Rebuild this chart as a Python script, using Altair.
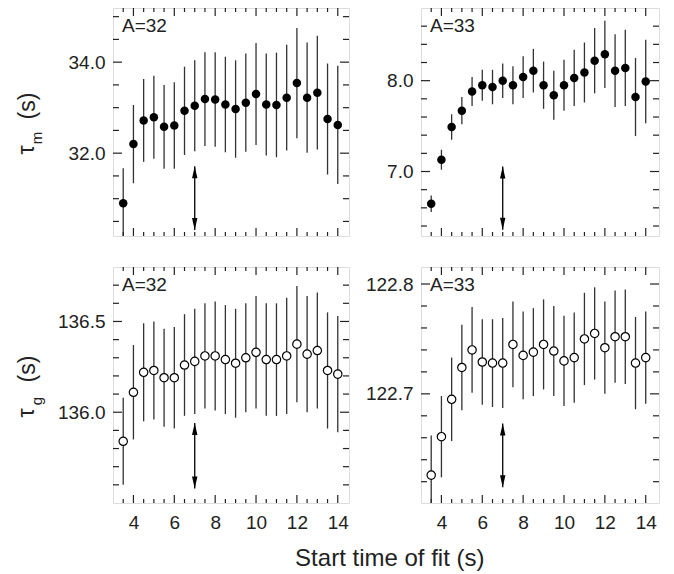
import altair as alt
import pandas as pd

FONT = "Liberation Sans"
INK = "#222222"

# ---------------- data ----------------
x_start = [3.5, 4.0, 4.5, 5.0, 5.5, 6.0, 6.5, 7.0, 7.5, 8.0, 8.5,
           9.0, 9.5, 10.0, 10.5, 11.0, 11.5, 12.0, 12.5, 13.0, 13.5, 14.0]

tau_m_32 = [30.90, 32.20, 32.72, 32.79, 32.58, 32.61, 32.93, 33.04, 33.19, 33.18, 33.07,
            32.97, 33.11, 33.30, 33.07, 33.06, 33.22, 33.54, 33.22, 33.33, 32.75, 32.62]
tau_m_32_err = [0.77, 0.86, 0.91, 0.91, 0.92, 0.95, 0.97, 1.00, 1.03, 1.04, 1.05,
                1.07, 1.08, 1.12, 1.12, 1.15, 1.16, 1.21, 1.21, 1.25, 1.22, 1.30]

tau_m_33 = [6.645, 7.13, 7.49, 7.67, 7.88, 7.95, 7.93, 8.00, 7.95, 8.04, 8.11,
            7.95, 7.84, 7.95, 8.03, 8.09, 8.22, 8.29, 8.11, 8.14, 7.82, 7.99]
tau_m_33_err = [0.09, 0.11, 0.14, 0.15, 0.16, 0.17, 0.19, 0.19, 0.21, 0.23, 0.24,
                0.26, 0.27, 0.28, 0.31, 0.33, 0.36, 0.37, 0.40, 0.42, 0.43, 0.46]

tau_g_32 = [135.84, 136.11, 136.22, 136.23, 136.19, 136.19, 136.26, 136.28, 136.31, 136.31, 136.29,
            136.27, 136.30, 136.33, 136.29, 136.29, 136.31, 136.375, 136.32, 136.34, 136.23, 136.21]
tau_g_32_err = [0.24, 0.26, 0.27, 0.27, 0.27, 0.28, 0.28, 0.29, 0.29, 0.30, 0.30,
                0.30, 0.30, 0.31, 0.31, 0.31, 0.32, 0.32, 0.32, 0.32, 0.32, 0.32]

tau_g_33 = [122.626, 122.661, 122.695, 122.724, 122.740, 122.729, 122.728, 122.728, 122.745, 122.735, 122.738,
            122.745, 122.739, 122.730, 122.733, 122.750, 122.755, 122.742, 122.752, 122.752, 122.728, 122.733]
tau_g_33_err = [0.036, 0.037, 0.038, 0.039, 0.039, 0.039, 0.040, 0.041, 0.039, 0.040, 0.040,
                0.041, 0.041, 0.041, 0.041, 0.042, 0.042, 0.042, 0.042, 0.043, 0.042, 0.042]

# arrow marking the chosen start time
arrow_x = 7.0
arrow_tm32 = [30.31, 31.71]
arrow_tm33 = [6.36, 7.055]
arrow_tg32 = [135.58, 135.94]
arrow_tg33 = [122.615, 122.673]

# axis ticks / labels
x_labels = [4, 6, 8, 10, 12, 14]
x_minor = [3.5, 4.5, 5.0, 5.5, 6.5, 7.0, 7.5, 8.5, 9.0, 9.5, 10.5, 11.0, 11.5,
           12.5, 13.0, 13.5]
tm32_labels = [32.0, 34.0]
tm32_minor = [30.5, 31.0, 31.5, 32.5, 33.0, 33.5, 34.5, 35.0]
tm33_labels = [7.0, 8.0]
tm33_minor = [6.4, 6.6, 6.8, 7.2, 7.4, 7.6, 7.8, 8.2, 8.4, 8.6]
tg32_labels = [136.0, 136.5]
tg32_minor = [135.6, 135.7, 135.8, 135.9, 136.1, 136.2, 136.3, 136.4, 136.6, 136.7]
tg33_labels = [122.7, 122.8]
tg33_minor = [122.62, 122.64, 122.66, 122.68, 122.72, 122.74, 122.76, 122.78]

tm32_domain = [30.18, 35.19]
tm33_domain = [6.29, 8.80]
tg32_domain = [135.5, 136.8]
tg33_domain = [122.6006, 122.8155]

panel_labels = ["A=32", "A=33", "A=32", "A=33"]
x_title = "Start time of fit (s)"


def panel(vals, errs, ydom, ylab, yminor, arrow, label, filled, w, h, xdom,
          show_x, sub=None):
    df = pd.DataFrame({"x": x_start, "y": vals, "err": errs})
    df["lo"] = df["y"] - df["err"]
    df["hi"] = df["y"] + df["err"]
    xs = alt.Scale(domain=xdom, nice=False, zero=False)
    ys = alt.Scale(domain=ydom, nice=False, zero=False)
    xaxis = (alt.Axis(values=x_labels, format="d", ticks=False, tickSize=0, domain=False,
                      grid=False, labelPadding=10, labelFontSize=19, labelFont=FONT,
                      labelColor=INK, title=None, labelFlush=False)
             if show_x else None)
    yaxis = alt.Axis(values=ylab, format=".1f", ticks=False, tickSize=0, domain=False,
                     grid=False, labelPadding=8, labelFontSize=19, labelFont=FONT,
                     labelColor=INK, title=None, labelFlush=False)

    def X(f):
        return alt.X(f, scale=xs, axis=xaxis)

    def Y(f):
        return alt.Y(f, scale=ys, axis=yaxis)

    base = alt.Chart(df)
    bars = base.mark_rule(clip=True, color="#333333", strokeWidth=1.3).encode(
        x=X("x:Q"), y=Y("lo:Q"), y2="hi:Q")
    if filled:
        pts = base.mark_circle(color="black", size=72, opacity=1).encode(
            x=X("x:Q"), y=Y("y:Q"))
    else:
        pts = base.mark_point(shape="circle", fill="white", stroke="black", strokeWidth=1.2,
                              size=70, opacity=1, fillOpacity=1).encode(
            x=X("x:Q"), y=Y("y:Q"))

    adf = pd.DataFrame({"x": [arrow_x], "y0": [arrow[0]], "y1": [arrow[1]]})
    abase = alt.Chart(adf)
    arule = abase.mark_rule(color="black", strokeWidth=1.3).encode(
        x=X("x:Q"), y=Y("y0:Q"), y2="y1:Q")
    ahead_up = abase.mark_point(shape="M0,0L0.45,2L-0.45,2Z", filled=True, color="black",
                                size=144, opacity=1).encode(x=X("x:Q"), y=Y("y1:Q"))
    ahead_dn = abase.mark_point(shape="M0,0L0.45,-2L-0.45,-2Z", filled=True, color="black",
                                size=144, opacity=1).encode(x=X("x:Q"), y=Y("y0:Q"))

    layers = [bars, arule, ahead_up, ahead_dn, pts]

    # inward ticks on all four sides
    for vals_, L in ((x_labels, 8), (x_minor, 4)):
        tdf = alt.Chart(pd.DataFrame({"x": vals_}))
        layers.append(tdf.mark_rule(color=INK, strokeWidth=1.2).encode(
            x=X("x:Q"), y=alt.value(h), y2=alt.value(h - L)))
        layers.append(tdf.mark_rule(color=INK, strokeWidth=1.2).encode(
            x=X("x:Q"), y=alt.value(0), y2=alt.value(L)))
    for vals_, L in ((ylab, 9), (yminor, 6)):
        tdf = alt.Chart(pd.DataFrame({"y": vals_}))
        layers.append(tdf.mark_rule(color=INK, strokeWidth=1.2).encode(
            y=Y("y:Q"), x=alt.value(0), x2=alt.value(L)))
        layers.append(tdf.mark_rule(color=INK, strokeWidth=1.2).encode(
            y=Y("y:Q"), x=alt.value(w), x2=alt.value(w - L)))

    one = alt.Data(values=[{"k": 0}])
    layers.append(alt.Chart(one).mark_text(text=label, align="left", baseline="alphabetic",
                                           font=FONT, fontSize=19, color=INK).encode(
        x=alt.value(9), y=alt.value(24)))

    if sub is not None:
        c = h / 2
        layers.append(alt.Chart(one).mark_text(text="τ", angle=270, align="center",
                                               baseline="alphabetic", font=FONT, fontSize=23,
                                               color=INK).encode(
            x=alt.value(-79), y=alt.value(c + 28)))
        layers.append(alt.Chart(one).mark_text(text=sub, angle=270, align="center",
                                               baseline="alphabetic", font=FONT, fontSize=15,
                                               color=INK).encode(
            x=alt.value(-71), y=alt.value(c + 16)))
        layers.append(alt.Chart(one).mark_text(text="(s)", angle=270, align="center",
                                               baseline="alphabetic", font=FONT, fontSize=23,
                                               color=INK).encode(
            x=alt.value(-78), y=alt.value(c - 16)))

    return alt.layer(*layers).properties(width=w, height=h)


LX = [3.0, 14.55]
RX = [3.0, 14.65]

tl = panel(tau_m_32, tau_m_32_err, tm32_domain, tm32_labels, tm32_minor, arrow_tm32,
           panel_labels[0], True, 236, 228, LX, False, sub="m")
tr = panel(tau_m_33, tau_m_33_err, tm33_domain, tm33_labels, tm33_minor, arrow_tm33,
           panel_labels[1], True, 238, 228, RX, False)
bl = panel(tau_g_32, tau_g_32_err, tg32_domain, tg32_labels, tg32_minor, arrow_tg32,
           panel_labels[2], False, 236, 236, LX, True, sub="g")
br = panel(tau_g_33, tau_g_33_err, tg33_domain, tg33_labels, tg33_minor, arrow_tg33,
           panel_labels[3], False, 238, 236, RX, True)

chart = alt.concat(
    tl, tr, bl, br, columns=2, align="each", spacing={"row": 27, "column": 13},
    title=alt.TitleParams(x_title, orient="bottom", anchor="middle", fontSize=24,
                          font=FONT, fontWeight="normal", color=INK, dx=52, offset=14),
).properties(
    autosize=alt.AutoSizeParams(type="none"),
    padding={"left": 105, "top": 0, "right": 553, "bottom": 566},
).configure_view(
    stroke=INK, strokeWidth=1.3
).configure(background="white")

chart.save("out.html", embed_options={"renderer": "svg", "actions": False})
